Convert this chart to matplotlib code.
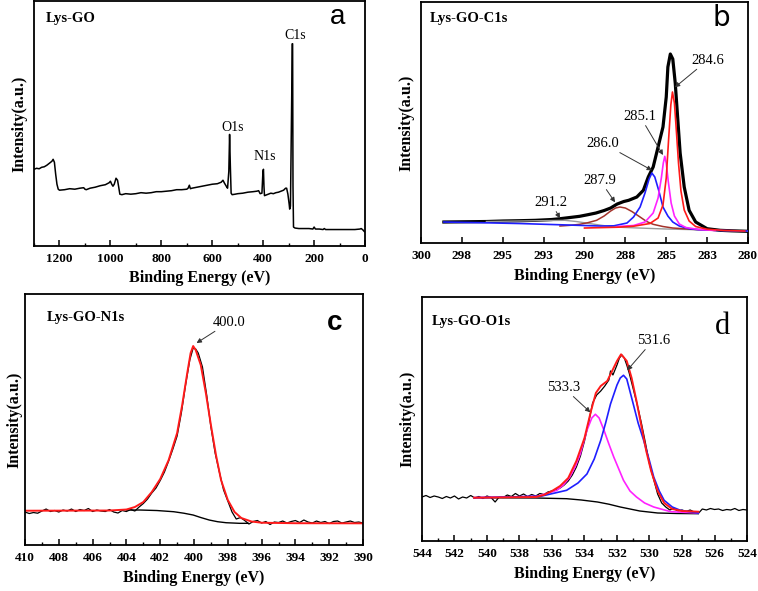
import matplotlib
matplotlib.use("Agg")
import matplotlib.pyplot as plt
import numpy as np

# ---- (a) survey spectrum ----
survey_be = [1300, 1290, 1280, 1270, 1260, 1250, 1240, 1230, 1225, 1220, 1215, 1210, 1205, 1200,
             1180, 1160, 1140, 1120, 1105, 1100, 1095, 1080, 1060, 1040, 1020, 1005, 1000, 995,
             990, 985, 978, 972, 968, 963, 955, 940, 920, 900, 880, 860, 840, 820, 800, 780,
             760, 740, 720, 700, 695, 690, 686, 680, 660, 640, 620, 600, 580, 565, 558, 552,
             545, 540, 535, 532, 529, 526, 522, 510, 500, 480, 460, 440, 425, 418, 412, 405,
             401, 399, 397, 395, 390, 380, 370, 360, 350, 340, 330, 320, 312, 308, 303, 298,
             296, 293, 288, 286, 284.5, 283, 281, 275, 260, 240, 220, 205, 200, 195, 180, 165,
             160, 155, 140, 120, 100, 80, 60, 40, 20, 15, 8, 3, 0]
survey_int = [77, 78, 77.5, 79, 79.5, 81, 83, 85, 87, 84, 72, 62, 57, 56,
              56.5, 57.5, 57, 58, 58.5, 57, 56.5, 58, 59, 60.5, 61.5, 63.5, 65, 62,
              60, 62, 68, 66, 60, 52, 51.5, 52.5, 52, 52.5, 53.5, 53, 53.5, 54.5, 54.5, 55,
              55.5, 56.5, 56.5, 57, 58, 61, 57.5, 58, 59, 60, 61, 62, 62.5, 64, 66, 63,
              60, 58, 75, 112, 80, 53, 51.5, 52, 52.5, 53, 54, 54.5, 55, 55.5, 52.5, 53,
              75, 77, 60, 50.5, 51, 52, 53, 52.5, 53.5, 54, 55, 56, 58, 58, 52, 42,
              37, 40, 150, 203, 203, 60, 19, 18, 17.5, 17.5, 17.5, 17, 19, 17, 17, 16.5,
              17.5, 16.5, 16.5, 16.5, 16.5, 16.5, 16.5, 16.5, 17, 17.5, 16, 14.5, 14]

# ---- (b) C1s ----
c1s_be = [298.6, 297.0, 296.0, 295.0, 294.0, 293.0, 292.0, 291.5, 291.0, 290.3, 289.8, 289.3, 288.8,
          288.4, 288.0, 287.6, 287.3, 286.8, 286.4, 286.1, 285.8, 285.5, 285.2, 285.0, 284.9,
          284.75, 284.6, 284.45, 284.3, 284.15, 283.9, 283.6, 283.2, 282.5, 281.7, 281.0, 280.0]
c1s_int = [21.0, 21.3, 21.5, 22.0, 22.3, 22.7, 23.5, 24.3, 25.3, 26.7, 28.3, 30.0, 32.5,
           35.0, 39.0, 41.5, 42.7, 46.0, 52.7, 66.0, 76.0, 96.0, 116.0, 146.0, 176.0,
           189.0, 184.0, 160.0, 125.0, 90.0, 56.0, 32.7, 21.0, 14.3, 12.7, 12.2, 11.7]
c1s_bg_be = [296, 294, 292, 291.2, 290.5, 289.9, 289.0, 288.2, 287, 286.2, 285, 283.2, 281.5, 280]
c1s_bg_int = [21.5, 22.0, 22.5, 22.7, 21.5, 20.0, 17.8, 16.0, 15.2, 14.7, 14.0, 13.3, 12.5, 11.7]
c1s_2846_be = [290, 288, 287, 286, 285.5, 285.2, 285.0, 284.85, 284.72, 284.62, 284.5, 284.38,
               284.25, 284.1, 283.9, 283.6, 283.2, 282.5, 281.5, 280.2]
c1s_2846_int = [15.0, 15.8, 16.8, 19.5, 25.0, 38.0, 65.0, 105.0, 138.0, 151.0, 140.0, 112.0,
                80.0, 52.0, 33.0, 22.0, 16.5, 13.8, 12.6, 12.0]
c1s_2851_be = [288, 287, 286.3, 285.8, 285.5, 285.3, 285.18, 285.09, 285.0, 284.88, 284.7,
               284.5, 284.2, 283.8, 283.0, 282.0]
c1s_2851_int = [16.5, 17.5, 21.0, 30.0, 45.0, 65.0, 80.0, 86.7, 80.0, 62.0, 40.0,
                27.0, 19.0, 15.5, 13.5, 12.5]
c1s_2860_be = [298.6, 296, 294, 292, 290, 289, 288.2, 287.4, 287.0, 286.6, 286.3, 286.05, 285.88,
               285.7, 285.45, 285.2, 284.9, 284.6, 284.2, 283.6, 283.0, 282, 281, 280]
c1s_2860_int = [21.0, 20.2, 19.5, 18.5, 17.5, 17.0, 17.2, 20.0, 26.0, 36.0, 50.0, 64.0, 70.0,
                66.0, 52.0, 36.0, 27.0, 21.0, 17.0, 14.3, 13.3, 12.7, 12.3, 12.0]
c1s_2879_be = [291.5, 290.8, 290.3, 289.8, 289.26, 288.8, 288.4, 288.1, 287.83, 287.5, 287.1,
               286.6, 286.2, 285.8, 285.2, 284.6, 283.5, 282.1]
c1s_2879_int = [17.0, 17.8, 18.7, 20.3, 22.7, 27.0, 32.0, 35.0, 36.0, 35.0, 31.5,
                26.0, 21.5, 18.7, 16.5, 15.0, 13.8, 12.7]

# ---- (c) N1s ----
n1s_be = [410.0, 409.75, 409.5, 409.25, 409.0, 408.75, 408.5, 408.25, 408.0, 407.75, 407.5,
          407.25, 407.0, 406.75, 406.5, 406.25, 406.0, 405.75, 405.5, 405.25, 405.0, 404.75,
          404.5, 404.25, 404.0, 403.75, 403.5, 403.25, 403.0, 402.75, 402.5, 402.25, 402.0,
          401.75, 401.5, 401.25, 401.0, 400.75, 400.5, 400.25, 400.05, 399.9, 399.75, 399.5,
          399.25, 399.0, 398.75, 398.5, 398.25, 398.0, 397.75, 397.5, 397.25, 397.0, 396.75,
          396.5, 396.25, 396.0, 395.75, 395.5, 395.25, 395.0, 394.75, 394.5, 394.25, 394.0,
          393.75, 393.5, 393.25, 393.0, 392.75, 392.5, 392.25, 392.0, 391.75, 391.5, 391.25,
          391.0, 390.75, 390.5, 390.25, 390.0]
n1s_int = [33.0, 31.5, 32.5, 31.8, 34.0, 36.0, 33.5, 34.5, 33.0, 35.0, 34.0,
           36.0, 33.5, 35.5, 34.5, 36.5, 33.5, 35.0, 34.0, 33.5, 35.5, 33.0,
           32.0, 34.5, 33.5, 35.5, 34.0, 38.0, 41.5, 46.0, 52.0, 57.0, 64.5,
           73.0, 84.0, 96.0, 109.0, 132.0, 160.0, 185.0, 197.0, 196.0, 192.0, 178.0,
           150.0, 118.0, 92.0, 73.0, 55.0, 44.0, 33.0, 26.0, 27.5, 24.5, 21.0,
           23.5, 24.5, 22.0, 23.5, 20.5, 23.0, 22.5, 24.0, 22.0, 23.5, 24.5,
           22.5, 25.0, 23.0, 22.0, 24.0, 22.5, 23.5, 21.5, 23.5, 24.0, 22.0,
           23.0, 24.0, 22.5, 23.0, 22.0]
n1s_fit_be = [410, 405, 404, 403.5, 403, 402.5, 402, 401.5, 401, 400.7, 400.4, 400.2, 400.05,
              399.9, 399.6, 399.3, 399, 398.7, 398.4, 398, 397.6, 397.2, 396.6, 396, 394, 390]
n1s_fit_int = [34.3, 34.5, 35.5, 38, 43, 53, 66, 85, 112, 140, 172, 192, 199,
               195, 180, 152, 120, 90, 65, 45, 33, 27, 23.5, 22.3, 21.8, 21.7]
n1s_bg_be = [404.0, 403.2, 402.2, 401.2, 400.6, 400.05, 399.6, 399.1, 398.6, 398.1, 397.3, 396.8]
n1s_bg_int = [35.0, 35.0, 34.5, 33.3, 31.8, 30.0, 27.5, 25.0, 23.3, 22.3, 21.7, 21.7]

# ---- (d) O1s ----
o1s_be = [544, 543.75, 543.5, 543.25, 543, 542.75, 542.5, 542.25, 542, 541.75, 541.5, 541.25,
          541, 540.75, 540.5, 540.25, 540, 539.75, 539.5, 539.25, 539, 538.75, 538.5, 538.25,
          538, 537.75, 537.5, 537.25, 537, 536.75, 536.5, 536.25, 536, 535.75, 535.5, 535.25,
          535, 534.75, 534.5, 534.25, 534, 533.75, 533.5, 533.25, 533, 532.75, 532.5, 532.4,
          532.25, 532, 531.85, 531.7, 531.55, 531.4, 531.25, 531, 530.75, 530.5, 530.25, 530,
          529.75, 529.5, 529.25, 529, 528.75, 528.5, 528.25, 528, 527.75, 527.5, 527.25, 527,
          526.75, 526.5, 526.25, 526, 525.75, 525.5, 525.25, 525, 524.75, 524.5, 524.25, 524]
o1s_int = [44, 45.5, 43.5, 45, 44, 42.5, 44.5, 43, 45, 42, 44, 43,
           45.5, 43, 44.5, 42.5, 45, 43.5, 39, 44, 43.5, 46, 44.5, 47.5,
           45, 47, 44.5, 46.5, 45, 47.5, 46.5, 49, 50, 51, 53, 56,
           60, 66, 74, 85, 100, 118, 138, 146, 150, 155, 161, 170,
           166, 176, 183, 186, 183, 176, 168, 152, 136, 118, 98, 77,
           62, 47, 38, 34, 31, 32.5, 30, 31, 29.5, 31, 29, 27.5,
           32, 31, 32.5, 31.5, 32, 30.5, 31.5, 31, 32.5, 30.5, 31.5, 31]
o1s_fit_be = [540.8, 537, 536.5, 536, 535.5, 535, 534.5, 534, 533.6, 533.3, 533, 532.6, 532.3,
              532, 531.75, 531.4, 531.1, 530.8, 530.5, 530.2, 529.9, 529.5, 529.1, 528.6, 528, 527]
o1s_fit_int = [43.3, 44, 46, 50, 55, 63, 80, 103, 130, 148, 155, 160, 170,
               180, 186.7, 180, 163, 140, 115, 90, 70, 50, 38, 32, 30, 29.3]
o1s_5316_be = [540.8, 536.7, 535.1, 534.4, 533.85, 533.4, 533.0, 532.7, 532.4, 532.0, 531.8,
               531.6, 531.4, 531.0, 530.7, 530.36, 530.0, 529.74, 529.4, 529.1, 528.6, 528.1, 527]
o1s_5316_int = [43.3, 44.7, 50.7, 58, 67, 82, 100.7, 118, 137, 156, 163,
                165.7, 162, 137, 118, 100.7, 80, 64, 50, 40.7, 34, 30.7, 28]
o1s_5333_be = [540.8, 536.9, 535.7, 535.3, 534.9, 534.55, 534.26, 533.85, 533.55, 533.33, 533.1,
               532.8, 532.5, 532.2, 531.6, 531.2, 530.8, 530.3, 529.74, 528.7, 527]
o1s_5333_int = [43.3, 44.7, 50.7, 56, 64, 75, 87, 110.7, 123, 126.7, 123,
                110.7, 97, 84, 60.7, 50, 44, 38, 34, 29.3, 28]
o1s_bg_be = [540.8, 537.0, 535.1, 534.2, 533.2, 532.5, 531.8, 531.2, 530.6, 529.5, 528.3, 527]
o1s_bg_int = [43.3, 43.0, 42.3, 41.0, 39.0, 36.8, 34.0, 32.0, 30.0, 28.0, 27.5, 27.3]

c1s_ticks = [300, 297.5, 295, 292.5, 290, 287.5, 285, 282.5, 280]
c1s_ticklabels = ["300", "298", "295", "293", "290", "288", "285", "283", "280"]

serif = "Liberation Serif"
plt.rcParams["font.family"] = serif

fig = plt.figure(figsize=(7.58, 5.91), dpi=100)
ax_a = fig.add_axes([0.0449, 0.5838, 0.4367, 0.4146])
ax_b = fig.add_axes([0.5554, 0.5888, 0.4314, 0.4078])
ax_c = fig.add_axes([0.0330, 0.0778, 0.4459, 0.4247])
ax_d = fig.add_axes([0.5567, 0.0846, 0.4288, 0.4129])


def style(ax, xmin, xmax, ytop, major, minor, ypad):
    ax.set_xlim(xmin, xmax)
    ax.set_ylim(0, ytop)
    ax.set_yticks([])
    for s in ax.spines.values():
        s.set_linewidth(1.3)
    ax.xaxis.set_major_locator(plt.MultipleLocator(major))
    if minor:
        ax.xaxis.set_minor_locator(plt.MultipleLocator(minor))
    ax.tick_params(axis="x", which="major", direction="in", length=4, width=1.1,
                   labelsize=9.5, pad=5)
    ax.tick_params(axis="x", which="minor", direction="in", length=2.2, width=1.0)
    for lab in ax.get_xticklabels():
        lab.set_fontweight("bold")
    ax.set_xlabel("Binding Energy (eV)", fontsize=11.5, fontweight="bold", labelpad=4)
    ax.set_ylabel("Intensity(a.u.)", fontsize=11.5, fontweight="bold", labelpad=ypad)


title_fs = 10.5

# (a)
style(ax_a, 1300, 0, 246, 200, 100, 5)
ax_a.plot(survey_be, survey_int, color="black", lw=1.1)
ax_a.text(276, 211, "C1s", ha="center", va="center", fontsize=10)
ax_a.text(521, 119, "O1s", ha="center", va="center", fontsize=10)
ax_a.text(392, 90, "N1s", ha="center", va="center", fontsize=10)
ax_a.text(0.036, 0.93, "Lys-GO", transform=ax_a.transAxes, fontsize=title_fs, fontweight="bold",
          va="center")
ax_a.text(0.918, 0.935, "a", transform=ax_a.transAxes, fontsize=20, ha="center", va="center",
          family="Liberation Sans")

# (b)
style(ax_b, 300, 280, 241, 2.5, None, 5)
ax_b.set_xticks(c1s_ticks)
ax_b.set_xticklabels(c1s_ticklabels, fontweight="bold")
ax_b.plot(c1s_be, c1s_int, color="black", lw=2.3, zorder=2)
ax_b.plot(c1s_bg_be, c1s_bg_int, color="#9a9a9a", lw=1.0, zorder=3)
ax_b.plot(c1s_2879_be, c1s_2879_int, color="#a3332b", lw=1.1, zorder=4)
ax_b.plot(c1s_2860_be, c1s_2860_int, color="#1f1fff", lw=1.2, zorder=5)
ax_b.plot(c1s_2851_be, c1s_2851_int, color="#ff22ff", lw=1.2, zorder=6)
ax_b.plot(c1s_2846_be, c1s_2846_int, color="#ff1a1a", lw=1.2, zorder=7)
arrow = dict(arrowstyle="-|>", color="#333333", lw=0.7, mutation_scale=7, shrinkA=0, shrinkB=0)
ax_b.annotate("284.6", xy=(284.47, 155.7), xytext=(282.45, 183), ha="center", va="center",
              fontsize=10.5, arrowprops=arrow)
ax_b.annotate("285.1", xy=(285.2, 88), xytext=(286.6, 126.7), ha="center", va="center",
              fontsize=10.5, arrowprops=arrow)
ax_b.annotate("286.0", xy=(285.87, 72.7), xytext=(288.87, 99.7), ha="center", va="center",
              fontsize=10.5, arrowprops=arrow)
ax_b.annotate("287.9", xy=(288.13, 40.7), xytext=(289.05, 62.7), ha="center", va="center",
              fontsize=10.5, arrowprops=arrow)
ax_b.annotate("291.2", xy=(291.5, 24.7), xytext=(292.05, 40.7), ha="center", va="center",
              fontsize=10.5, arrowprops=arrow)
ax_b.text(0.028, 0.93, "Lys-GO-C1s", transform=ax_b.transAxes, fontsize=title_fs,
          fontweight="bold", va="center")
ax_b.text(0.919, 0.935, "b", transform=ax_b.transAxes, fontsize=20, ha="center", va="center",
          family="DejaVu Sans")

# (c)
style(ax_c, 410, 390, 251, 2, 1, 2)
ax_c.plot(n1s_be, n1s_int, color="black", lw=0.9)
ax_c.plot(n1s_bg_be, n1s_bg_int, color="black", lw=1.0)
ax_c.plot(n1s_fit_be, n1s_fit_int, color="#ff1a1a", lw=1.4)
ax_c.annotate("400.0", xy=(399.85, 202), xytext=(397.9, 223), ha="center", va="center",
              fontsize=10.5, arrowprops=arrow)
ax_c.text(0.065, 0.906, "Lys-GO-N1s", transform=ax_c.transAxes, fontsize=title_fs,
          fontweight="bold", va="center")
ax_c.text(0.917, 0.886, "c", transform=ax_c.transAxes, fontsize=20, ha="center", va="center",
          family="Liberation Sans", fontweight="bold")

# (d)
style(ax_d, 544, 524, 244, 2, 1, 5)
ax_d.plot(o1s_be, o1s_int, color="black", lw=0.9)
ax_d.plot(o1s_bg_be, o1s_bg_int, color="black", lw=1.0)
ax_d.plot(o1s_5333_be, o1s_5333_int, color="#ff22ff", lw=1.2)
ax_d.plot(o1s_5316_be, o1s_5316_int, color="#1f1fff", lw=1.2)
ax_d.plot(o1s_fit_be, o1s_fit_int, color="#ff1a1a", lw=1.4)
ax_d.annotate("531.6", xy=(531.37, 170.7), xytext=(529.77, 200.7), ha="center", va="center",
              fontsize=10.5, arrowprops=arrow)
ax_d.annotate("533.3", xy=(533.64, 128.7), xytext=(535.3, 153.7), ha="center", va="center",
              fontsize=10.5, arrowprops=arrow)
ax_d.text(0.031, 0.90, "Lys-GO-O1s", transform=ax_d.transAxes, fontsize=title_fs,
          fontweight="bold", va="center")
ax_d.text(0.926, 0.877, "d", transform=ax_d.transAxes, fontsize=22, ha="center", va="center",
          family="Liberation Serif")

fig.savefig("out.png", dpi=100)
